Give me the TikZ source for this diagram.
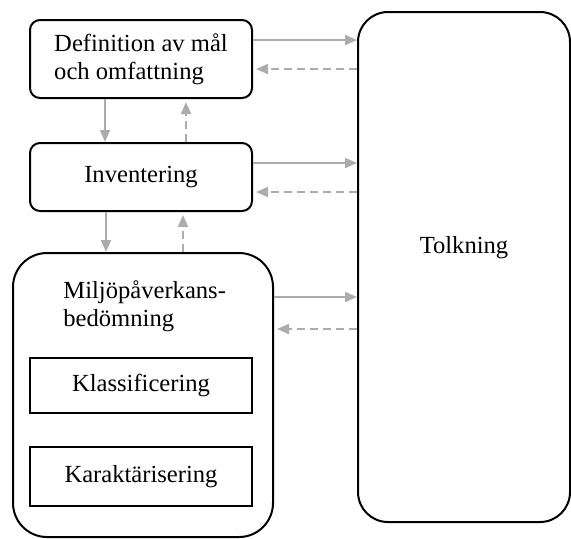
\documentclass[tikz,border=0pt]{standalone}
\usepackage{fontspec}
\setmainfont{Liberation Serif}
\usetikzlibrary{arrows.meta, positioning}
\definecolor{flowgray}{RGB}{172,172,172}
\tikzset{
  stage/.style={
    draw=black,
    line width=1pt,
    rounded corners=5pt,
    inner sep=0pt
  },
  substage/.style={
    draw=black,
    line width=1pt,
    minimum width=111pt,
    inner sep=0pt
  },
  flow/.style={
    draw=flowgray,
    line width=1pt,
    -{Triangle[length=6pt,width=5pt]}
  },
  feedback/.style={
    flow,
    dash pattern=on 4pt off 2.5pt,
    shorten >=1.5pt
  }
}

\begin{document}
\begin{tikzpicture}[x=0.5pt, y=-0.5pt, every node/.append style={font=\fontsize{12.3}{14}\selectfont}]
          \useasboundingbox (0,0) rectangle (571,538);
          \node[stage, minimum width=111pt, minimum height=39pt, align=left] (def) at (141,59) {Definition av mål\\och omfattning};
          \node[stage, minimum width=111pt, minimum height=34pt] (inv) at (141,177) {Inventering};
          \node[stage, rounded corners=17pt, minimum width=130pt, minimum height=142pt] (mil) at (143,395) {};
          \node[anchor=north west, align=left, inner sep=0pt] (miltxt) at (63,280) {Miljöpåverkans-\\bedömning};
          \node[substage, minimum height=27.5pt] (kla) at (141,385.5) {Klassificering};
          \node[substage, minimum height=29.5pt] (kar) at (141,476.5) {Karaktärisering};
          \node[stage, rounded corners=15pt, minimum width=106pt, minimum height=255pt,
                label={[yshift=9.5pt]center:Tolkning}] (tolk) at (464,267) {};

          % to and from the interpretation
          \draw[flow] ([yshift=9.5pt]def.east) -- ([yshift=9.5pt]def.east -| tolk.west);
          \draw[feedback] ([yshift=-5pt]def.east -| tolk.west) -- ([yshift=-5pt]def.east);
          \draw[flow] ([yshift=7pt]inv.east) -- ([yshift=7pt]inv.east -| tolk.west);
          \draw[feedback] ([yshift=-7.5pt]inv.east -| tolk.west) -- ([yshift=-7.5pt]inv.east);
          \draw[flow] ([yshift=49pt]mil.east) -- ([yshift=49pt]mil.east -| tolk.west);
          \draw[feedback] ([yshift=33pt]mil.east -| tolk.west) -- ([yshift=33pt]mil.east);

          % between the stages
          \draw[flow] ([xshift=-18pt]def.south) -- ([xshift=-18pt]def.south |- inv.north);
          \draw[feedback] ([xshift=22.5pt]def.south |- inv.north) -- ([xshift=22.5pt]def.south);
          \draw[flow] ([xshift=-17.5pt]inv.south) -- ([xshift=-17.5pt]inv.south |- mil.north);
          \draw[feedback] ([xshift=21pt]inv.south |- mil.north) -- ([xshift=21pt]inv.south);
        \end{tikzpicture}
\end{document}
